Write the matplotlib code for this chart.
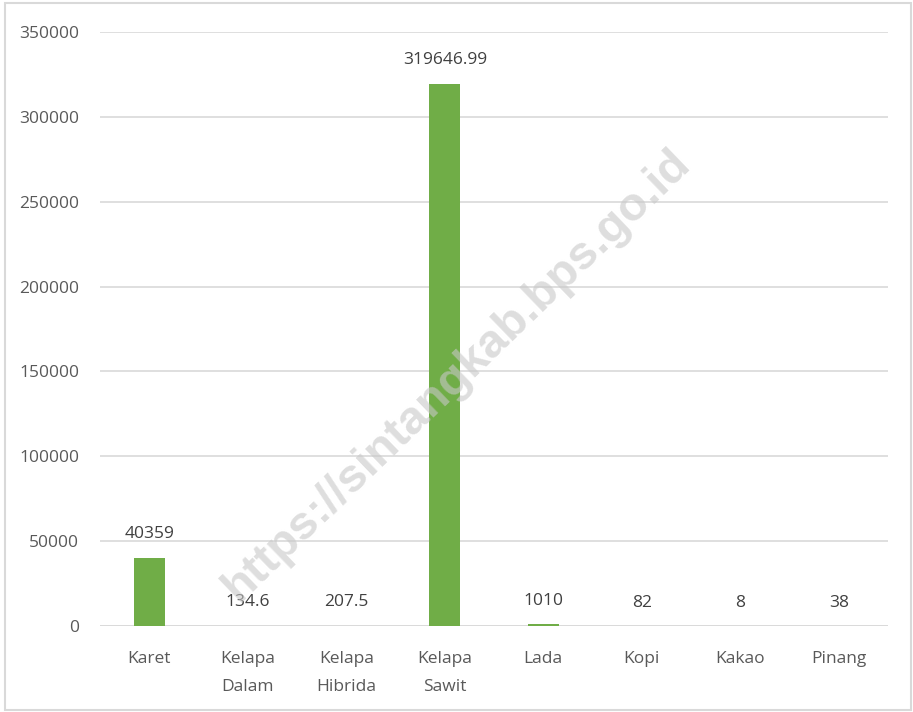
import matplotlib
matplotlib.use("Agg")
import matplotlib.pyplot as plt
from matplotlib.patches import Rectangle

categories = ["Karet", "Kelapa\nDalam", "Kelapa\nHibrida", "Kelapa\nSawit", "Lada", "Kopi", "Kakao", "Pinang"]
values = [40359, 134.6, 207.5, 319646.99, 1010, 82, 8, 38]
value_labels = ["40359", "134.6", "207.5", "319646.99", "1010", "82", "8", "38"]
yticks = [0, 50000, 100000, 150000, 200000, 250000, 300000, 350000]

plt.rcParams['font.family'] = ['Open Sans', 'DejaVu Sans']

W, H = 913, 712
fig = plt.figure(figsize=(W/100, H/100), dpi=100)
ax = fig.add_axes([100/W, 1-626/H, 788/W, (626-32)/H])

x = list(range(len(categories)))
ax.bar(x, values, width=0.31, color="#70AD47", zorder=3)
ax.set_xlim(-0.5, len(categories)-0.5)
ax.set_ylim(0, 350000)
ax.set_yticks(yticks)
ax.set_yticklabels([str(v) for v in yticks], color="#595959", fontsize=12.5)
ax.set_xticks(x)
ax.set_xticklabels(categories, color="#595959", fontsize=12.5, linespacing=2.0)
ax.tick_params(axis='x', length=0, pad=18)
ax.tick_params(axis='y', length=0, pad=15)
ax.grid(axis='y', color="#D9D9D9", linewidth=1.2, zorder=0)
for s in ax.spines.values():
    s.set_visible(False)
ax.axhline(0, color="#D9D9D9", linewidth=1.2, zorder=2)

for xi, v, lab in zip(x, values, value_labels):
    ax.annotate(lab, (xi, v), xytext=(0, 11), textcoords="offset points",
                ha="center", va="bottom", color="#404040", fontsize=12.5)

fig.text(457/W, 1-375/H, "https://sintangkab.bps.go.id", rotation=44,
         ha="center", va="center", fontsize=34, fontweight="bold",
         color="#C8C8C8", alpha=0.6, family=['Liberation Sans', 'DejaVu Sans'], zorder=10)

fig.add_artist(Rectangle((5/W, 2/H), 906/W, 707/H, transform=fig.transFigure,
                         fill=False, edgecolor="#D9D9D9", linewidth=1.5))

fig.savefig("out.png", dpi=100)
